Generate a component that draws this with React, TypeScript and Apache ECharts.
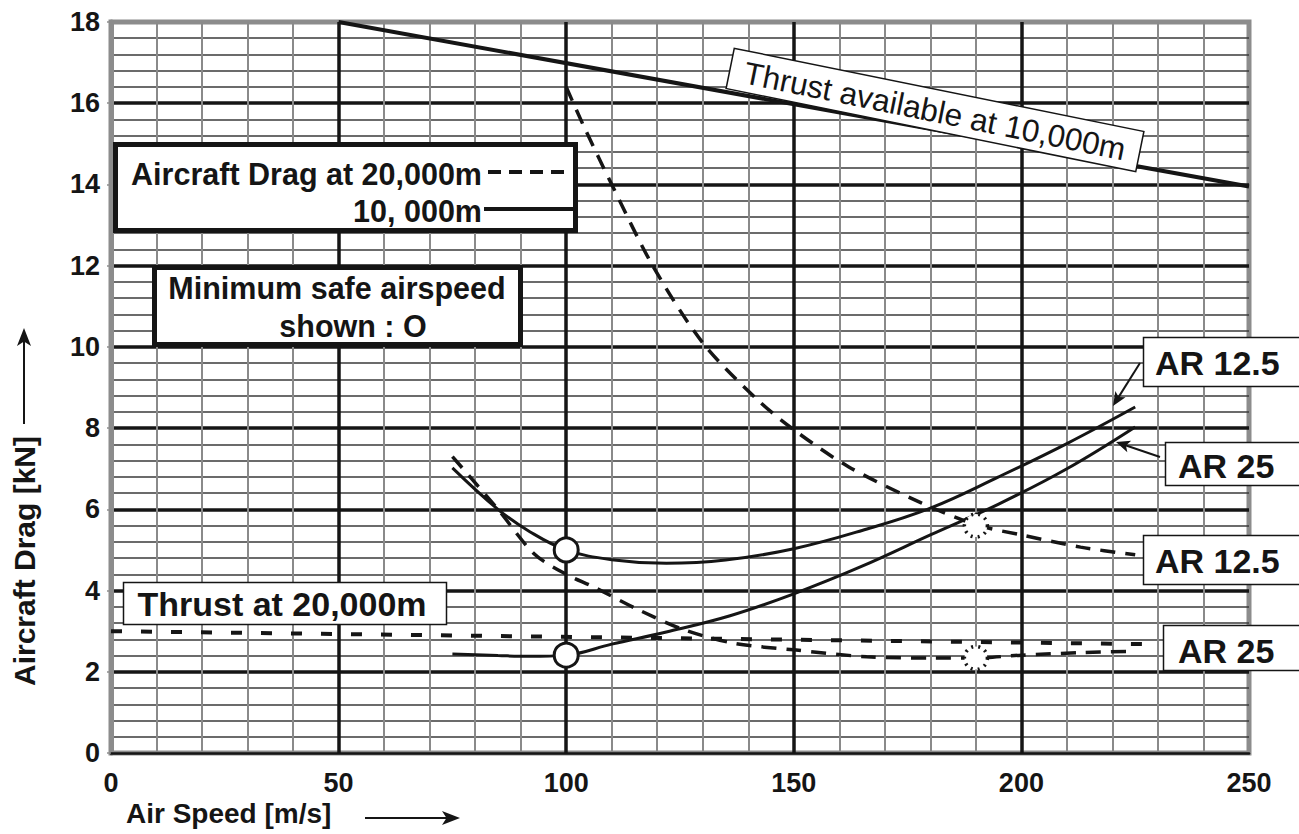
import React, { useEffect, useRef } from "react";
import * as echarts from "echarts";

// ---- data ----
const xMin = 0, xMax = 250, xStep = 50;
const yMin = 0, yMax = 18, yStep = 2;

const thrust10kX = [50, 250];
const thrust10kY = [18, 13.95];

const thrust20kX = [0, 228];
const thrust20kY = [3.0, 2.68];

const drag10kAR125X = [75, 85, 92, 100, 110, 122, 135, 150, 165, 180, 195, 210, 225];
const drag10kAR125Y = [7.02, 6.0, 5.45, 5.0, 4.76, 4.67, 4.75, 5.03, 5.48, 6.03, 6.8, 7.62, 8.52];

const drag10kAR25X = [75, 85, 92, 100, 110, 122, 136, 150, 165, 180, 195, 210, 225];
const drag10kAR25Y = [2.44, 2.4, 2.38, 2.41, 2.68, 2.98, 3.38, 3.92, 4.6, 5.37, 6.13, 7.0, 8.03];

const drag20kAR125X = [100, 104, 110, 119, 130, 142, 150, 162, 178, 190, 200, 213, 225];
const drag20kAR125Y = [16.4, 15.4, 14.0, 12.0, 10.1, 8.7, 7.96, 7.05, 6.16, 5.62, 5.37, 5.07, 4.88];

const drag20kAR25X = [75, 85, 93, 100, 106, 116, 126, 137, 150, 166, 181, 190, 200, 213, 223];
const drag20kAR25Y = [7.3, 6.0, 4.9, 4.4, 4.09, 3.52, 3.03, 2.7, 2.54, 2.37, 2.34, 2.34, 2.41, 2.47, 2.5];

const minSafe10kX = [100, 100];
const minSafe10kY = [5.0, 2.41];
const minSafe20kX = [190, 190];
const minSafe20kY = [5.6, 2.34];

const xAxisTitle = "Air Speed [m/s]";
const yAxisTitle = "Aircraft Drag [kN]";

const FONT = '"Liberation Sans", Arial, Helvetica, sans-serif';
const INK = "#151515";

const pairs = (xs: number[], ys: number[]) => xs.map((x, i) => [x, ys[i]]);

function arrowHead(x1: number, y1: number, x2: number, y2: number, len: number, half: number) {
  const dx = x2 - x1, dy = y2 - y1;
  const d = Math.hypot(dx, dy);
  const ux = dx / d, uy = dy / d;
  const bx = x2 - ux * len, by = y2 - uy * len;
  return [
    [x2, y2],
    [bx - uy * half, by + ux * half],
    [bx + ux * len * 0.25, by + uy * len * 0.25],
    [bx + uy * half, by - ux * half],
  ];
}

function arrow(x1: number, y1: number, x2: number, y2: number, w: number, len: number, half: number) {
  const head = arrowHead(x1, y1, x2, y2, len, half);
  const d = Math.hypot(x2 - x1, y2 - y1);
  return [
    { type: "line", z: 100, shape: { x1, y1, x2: x2 - ((x2 - x1) / d) * len * 0.6, y2: y2 - ((y2 - y1) / d) * len * 0.6 }, style: { stroke: INK, lineWidth: w } },
    { type: "polygon", z: 100, shape: { points: head }, style: { fill: INK } },
  ];
}

function txt(text: string, x: number, y: number, size: number, align: string, weight = "bold", rotation = 0) {
  return {
    type: "text",
    z: 101,
    x,
    y,
    rotation,
    style: { text, fontSize: size, fontWeight: weight, fontFamily: FONT, fill: INK, align, verticalAlign: "middle" },
  };
}

function box(x: number, y: number, w: number, h: number, lw: number) {
  return { type: "rect", z: 100, shape: { x, y, width: w, height: h }, style: { fill: "#fff", stroke: INK, lineWidth: lw } };
}

export default function App() {
  const ref = useRef<HTMLDivElement>(null);

  useEffect(() => {
    if (!ref.current) return;
    const chart = echarts.init(ref.current, undefined, { renderer: "svg" });

    const lineSeries = (xs: number[], ys: number[], dashed: any, width: number, smooth = 0.4) => ({
      type: "line",
      data: pairs(xs, ys),
      smooth,
      symbol: "none",
      z: 5,
      lineStyle: { color: INK, width, type: dashed },
    });

    const graphic: any[] = [
      // legend box: drag
      box(115.5, 144.5, 460, 86, 5),
      txt("Aircraft Drag at 20,000m", 482, 174, 30.5, "right"),
      { type: "line", z: 101, shape: { x1: 488, y1: 172, x2: 570, y2: 172 }, style: { stroke: INK, lineWidth: 4, lineDash: [13, 8] } },
      txt("10, 000m", 482, 211, 30.5, "right"),
      { type: "line", z: 101, shape: { x1: 484, y1: 209, x2: 573, y2: 209 }, style: { stroke: INK, lineWidth: 4 } },
      // minimum safe airspeed box
      box(154.5, 267.5, 366, 77, 5),
      txt("Minimum safe airspeed", 337, 288, 30.5, "center"),
      txt("shown : O", 353, 326, 30.5, "center"),
      // thrust at 20,000m
      box(123.5, 582.5, 323, 42, 1.5),
      txt("Thrust at 20,000m", 282, 604, 34, "center"),
      // thrust available (rotated)
      {
        type: "group",
        x: 935,
        y: 110,
        rotation: -0.2,
        z: 100,
        children: [
          { type: "rect", z: 100, shape: { x: -209, y: -20.5, width: 418, height: 41 }, style: { fill: "#fff", stroke: INK, lineWidth: 1.5 } },
          { type: "text", z: 101, x: 0, y: 1, style: { text: "Thrust available at 10,000m", fontSize: 31.5, fontWeight: "normal", fontFamily: FONT, fill: INK, align: "center", verticalAlign: "middle" } },
        ],
      },
      // right labels
      box(1143.5, 337.5, 170, 49, 1.5),
      txt("AR 12.5", 1155, 363, 34, "left"),
      box(1165.5, 442.5, 150, 43, 1.5),
      txt("AR 25", 1178, 466, 34, "left"),
      box(1143.5, 535.5, 170, 49, 1.5),
      txt("AR 12.5", 1155, 561, 34, "left"),
      box(1163.5, 625.5, 150, 45, 1.5),
      txt("AR 25", 1178, 651, 34, "left"),
      ...arrow(1140, 363, 1113, 406, 2, 14, 6),
      ...arrow(1160, 457, 1116, 442, 2, 14, 6),
      // axis titles
      txt(xAxisTitle, 126, 813, 28, "left"),
      ...arrow(365, 818, 460, 818, 2, 18, 7),
      txt(yAxisTitle, 24, 561, 30, "center", "bold", Math.PI / 2),
      ...arrow(24, 424, 24, 328, 2, 18, 7),
    ];

    chart.setOption({
      animation: false,
      backgroundColor: "#fff",
      grid: { left: 111, right: 50, top: 22, bottom: 81, show: true, borderColor: "#8c8c8c", borderWidth: 5, backgroundColor: "#fff" },
      xAxis: {
        type: "value",
        min: xMin,
        max: xMax,
        interval: xStep,
        axisLine: { show: true, onZero: false, lineStyle: { color: INK, width: 2.5 } },
        axisTick: { show: false },
        axisLabel: { fontSize: 27, fontWeight: "bold", fontFamily: FONT, color: INK, margin: 16 },
        splitLine: { show: true, showMinLine: false, showMaxLine: false, lineStyle: { color: INK, width: 3.5 } },
        minorTick: { show: false, splitNumber: 5 },
        minorSplitLine: { show: true, lineStyle: { color: "#8a8a8a", width: 2 } },
      },
      yAxis: {
        type: "value",
        min: yMin,
        max: yMax,
        interval: yStep,
        axisLine: { show: true, onZero: false, lineStyle: { color: "#8c8c8c", width: 5 } },
        axisTick: { show: true, length: 4, lineStyle: { color: "#8c8c8c", width: 1.5 } },
        axisLabel: { fontSize: 27, fontWeight: "bold", fontFamily: FONT, color: INK, margin: 11 },
        splitLine: { show: true, showMinLine: false, showMaxLine: false, lineStyle: { color: INK, width: 3.5 } },
        minorTick: { show: false, splitNumber: 5 },
        minorSplitLine: { show: true, lineStyle: { color: "#3a3a3a", width: 1.5 } },
      },
      series: [
        lineSeries(thrust10kX, thrust10kY, "solid", 4, 0),
        lineSeries(thrust20kX, thrust20kY, [11, 19], 4, 0),
        lineSeries(drag10kAR125X, drag10kAR125Y, "solid", 3),
        lineSeries(drag10kAR25X, drag10kAR25Y, "solid", 3),
        lineSeries(drag20kAR125X, drag20kAR125Y, [15, 10], 3.5, 0.3),
        lineSeries(drag20kAR25X, drag20kAR25Y, [15, 10], 3.5, 0.3),
        {
          type: "scatter",
          data: pairs(minSafe10kX, minSafe10kY),
          symbol: "circle",
          symbolSize: 24,
          z: 6,
          itemStyle: { color: "#fff", borderColor: INK, borderWidth: 3, opacity: 1 },
        },
        {
          type: "scatter",
          data: pairs(minSafe20kX, minSafe20kY),
          symbol: "circle",
          symbolSize: 23,
          z: 6,
          itemStyle: { color: "#fff", borderColor: INK, borderWidth: 3.5, borderType: [2, 5], opacity: 1 },
        },
      ],
      graphic,
    });

    return () => chart.dispose();
  }, []);

  return <div ref={ref} style={{ position: "fixed", left: 0, top: 0, width: 1299, height: 834, background: "#fff" }} />;
}
